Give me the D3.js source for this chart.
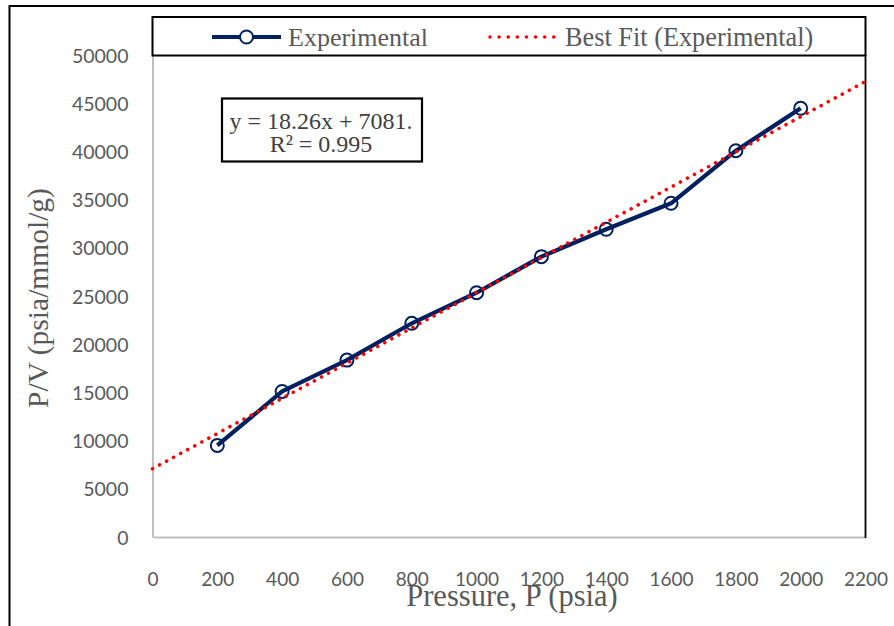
<!DOCTYPE html>
<html>
<head>
<meta charset="utf-8">
<script src="https://cdn.jsdelivr.net/npm/d3@7/dist/d3.min.js"></script>
<style>
  html, body { margin: 0; padding: 0; background: #fff; }
  svg { display: block; }
</style>
</head>
<body>
<svg id="chart" width="894" height="626"></svg>
<script>
// ---- Data ----
const pressures = [200, 400, 600, 800, 1000, 1200, 1400, 1600, 1800, 2000];
const pvValues = [9500, 15100, 18350, 22170, 25340, 29080, 31920, 34620, 40070, 44470];
const fitSlope = 18.26;
const fitIntercept = 7081;
const fitRange = [0, 2200];
const xTicks = [0, 200, 400, 600, 800, 1000, 1200, 1400, 1600, 1800, 2000, 2200];
const yTicks = [0, 5000, 10000, 15000, 20000, 25000, 30000, 35000, 40000, 45000, 50000];
const seriesNames = ["Experimental", "Best Fit (Experimental)"];
const equationLines = ["y = 18.26x + 7081.", "R² = 0.995"];
const xTitle = "Pressure, P (psia)";
const yTitle = "P/V (psia/mmol/g)";

// ---- Layout ----
const svg = d3.select("#chart");
const plot = { left: 152.5, right: 865.5, top: 55, bottom: 537 };
const x = d3.scaleLinear().domain([0, 2200]).range([plot.left, plot.right]);
const y = d3.scaleLinear().domain([0, 50000]).range([plot.bottom, plot.top]);

const navy = "#002060";
const red = "#ff0000";
const gray = "#595959";
const serif = "'Liberation Serif', 'Times New Roman', serif";
const sans = "Lato, 'Open Sans', sans-serif";

// outer chart frame
svg.append("rect").attr("x", 9.5).attr("y", 6).attr("width", 900).attr("height", 700)
  .attr("fill", "none").attr("stroke", "#000").attr("stroke-width", 2);

// axes (gray lines)
const xAxis = d3.axisBottom(x).tickValues(xTicks).tickSize(0).tickPadding(0).tickFormat(d3.format("d"));
const yAxis = d3.axisLeft(y).tickValues(yTicks).tickSize(0).tickPadding(0).tickFormat(d3.format("d"));

const gx = svg.append("g").attr("transform", `translate(0,${plot.bottom})`).call(xAxis);
gx.select(".domain").attr("stroke", "#bfbfbf").attr("stroke-width", 2);
gx.selectAll("text").attr("dy", null).attr("y", 49)
  .attr("font-family", sans).attr("font-size", 19).attr("fill", gray);

const gy = svg.append("g").attr("transform", `translate(${plot.left},0)`).call(yAxis);
gy.select(".domain").attr("stroke", "#bfbfbf").attr("stroke-width", 2);
gy.selectAll("text").attr("x", -24).attr("dy", "0.36em")
  .attr("font-family", sans).attr("font-size", 19.5).attr("fill", gray);

// right border of plot
svg.append("line").attr("x1", plot.right).attr("x2", plot.right)
  .attr("y1", plot.top).attr("y2", plot.bottom + 1)
  .attr("stroke", "#000").attr("stroke-width", 1.8);

// experimental line
const line = d3.line().x((d, i) => x(pressures[i])).y(d => y(d));
svg.append("path").datum(pvValues).attr("d", line)
  .attr("fill", "none").attr("stroke", navy).attr("stroke-width", 4.2)
  .attr("stroke-linejoin", "round");

svg.selectAll("circle.pt").data(pvValues).enter().append("circle")
  .attr("class", "pt")
  .attr("cx", (d, i) => x(pressures[i])).attr("cy", d => y(d)).attr("r", 6.5)
  .attr("fill", "none").attr("stroke", navy).attr("stroke-width", 2);

// best fit line
const fitLine = d3.line().x(d => x(d)).y(d => y(fitSlope * d + fitIntercept));
svg.append("path").datum(fitRange).attr("d", fitLine)
  .attr("fill", "none").attr("stroke", red).attr("stroke-width", 3.6)
  .attr("stroke-dasharray", "0.01 8").attr("stroke-linecap", "round");

// legend box
svg.append("rect").attr("x", 152.5).attr("y", 17).attr("width", 713).attr("height", 38.5)
  .attr("fill", "#fff").attr("stroke", "#000").attr("stroke-width", 2);

const legY = 37;
svg.append("line").attr("x1", 212).attr("x2", 281).attr("y1", legY).attr("y2", legY)
  .attr("stroke", navy).attr("stroke-width", 4.2);
svg.append("circle").attr("cx", 246.5).attr("cy", legY).attr("r", 6.5)
  .attr("fill", "#fff").attr("stroke", navy).attr("stroke-width", 2);
svg.append("text").attr("x", 288).attr("y", legY + 9).text(seriesNames[0])
  .attr("font-family", serif).attr("font-size", 26).attr("fill", gray);

svg.append("line").attr("x1", 490).attr("x2", 554).attr("y1", legY).attr("y2", legY)
  .attr("stroke", red).attr("stroke-width", 3.6)
  .attr("stroke-dasharray", "0.01 9.1").attr("stroke-linecap", "round");
svg.append("text").attr("x", 565).attr("y", legY + 9).text(seriesNames[1])
  .attr("font-family", serif).attr("font-size", 26.3).attr("fill", gray);

// equation box
svg.append("rect").attr("x", 222).attr("y", 98.5).attr("width", 200).attr("height", 63)
  .attr("fill", "#fff").attr("stroke", "#000").attr("stroke-width", 2.2);
svg.append("text").attr("x", 321).attr("y", 129).attr("text-anchor", "middle")
  .text(equationLines[0]).attr("font-family", serif).attr("font-size", 24).attr("fill", "#404040");
svg.append("text").attr("x", 321).attr("y", 152).attr("text-anchor", "middle")
  .text(equationLines[1]).attr("font-family", serif).attr("font-size", 24).attr("fill", "#404040");

// axis titles
svg.append("text").attr("x", 512).attr("y", 606).attr("text-anchor", "middle")
  .text(xTitle).attr("font-family", serif).attr("font-size", 30.5).attr("fill", gray);
svg.append("text").attr("transform", "translate(48,298) rotate(-90)").attr("text-anchor", "middle")
  .text(yTitle).attr("font-family", serif).attr("font-size", 29.5).attr("fill", gray);
</script>
</body>
</html>
